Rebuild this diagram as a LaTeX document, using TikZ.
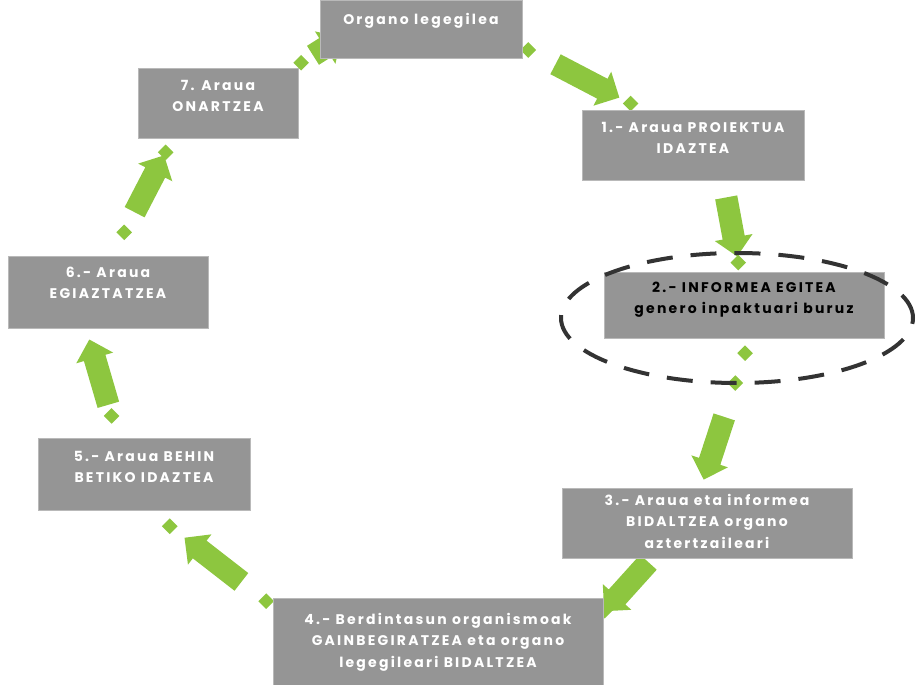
\documentclass[tikz,border=0pt]{standalone}
\usepackage{fontspec}
\setmainfont{Poppins}
\usetikzlibrary{shapes.geometric,shapes.arrows}

\definecolor{boxgray}{HTML}{959595}
\definecolor{leafgreen}{HTML}{8DC63F}
\definecolor{ringgray}{HTML}{333333}

\pgfdeclarelayer{back}
\pgfsetlayers{back,main}

\begin{document}
\begin{tikzpicture}[x=1pt, y=-1pt,
			stepbox/.style={rectangle, draw=gray!55, fill=boxgray, text=white, align=center,
				font=\bfseries\fontsize{14}{21.5}\selectfont\addfontfeatures{LetterSpace=16},
				inner sep=2pt, text depth=14pt},
			reportbox/.style={stepbox, text=black},
			gdot/.style={rectangle, fill=leafgreen, minimum size=11pt, inner sep=0pt, rotate=45},
			garrow/.style={single arrow, fill=leafgreen, inner sep=11pt, single arrow head extend=8pt,
				minimum height=#1, sloped, allow upside down},
			garrow/.default=66pt,
			]
			\useasboundingbox (0,0) rectangle (916,685);

			%Nodes
			\node[stepbox, minimum width=202pt, minimum height=58pt, text depth=20pt] (leg) at (421,29) {Organo legegilea};
			\node[stepbox, minimum width=222pt, minimum height=70pt] (n1) at (693,145) {1.- Araua PROIEKTUA\\IDAZTEA};
			\node[reportbox, minimum width=280pt, minimum height=66pt] (n2) at (744,305) {2.- INFORMEA EGITEA\\genero inpaktuari buruz};
			\node[stepbox, minimum width=290pt, minimum height=70pt, text depth=4pt] (n3) at (707,523) {3.- Araua eta informea\\BIDALTZEA organo\\aztertzaileari};
			\node[stepbox, minimum width=330pt, minimum height=87pt, text depth=4pt] (n4) at (438,642) {4.- Berdintasun organismoak\\GAINBEGIRATZEA eta organo\\legegileari BIDALTZEA};
			\node[stepbox, minimum width=212pt, minimum height=72pt] (n5) at (144,474) {5.- Araua BEHIN\\BETIKO IDAZTEA};
			\node[stepbox, minimum width=200pt, minimum height=72pt, text depth=18pt] (n6) at (108,292) {6.- Araua\\EGIAZTATZEA};
			\node[stepbox, minimum width=160pt, minimum height=70pt] (n7) at (218,103) {7. Araua\\ONARTZEA};

			%Ring round the report
			\node[ellipse, draw=ringgray, line width=4pt, dash pattern=on 26pt off 18pt,
				minimum width=352pt, minimum height=130pt] (ring) at (737,318) {};

			%Cycle
			\begin{pgfonlayer}{back}
			\path (leg.-10) -- (n1.145)
				node[pos=.05, gdot] {} node[pos=.5, garrow=72pt] {} node[pos=.9, gdot] {};
			\path ([xshift=30pt]n1.south) -- ([xshift=-4pt]n2.north)
				node[pos=.45, garrow=60pt] {} node[pos=.9, gdot] {};
			\path ([xshift=6pt]n2.south) -- ([xshift=-6pt]n3.north)
				node[pos=.1, gdot] {} node[pos=.3, gdot] {} node[pos=.7, garrow=66pt] {};
			\path ([xshift=-55pt]n3.south) -- ([yshift=-14pt]n4.north east)
				node[pos=.45, garrow=66pt] {} node[pos=.97, gdot] {};
			\path ([yshift=-8pt]n4.north west) -- ([xshift=18pt,yshift=-10pt]n5.south)
				node[pos=.06, gdot] {} node[pos=.5, garrow=72pt] {} node[pos=.93, gdot] {};
			\path ([xshift=-26pt]n5.north) -- ([xshift=-22pt]n6.south)
				node[pos=.2, gdot] {} node[pos=.55, garrow=68pt] {};
			\path ([xshift=4pt]n6.north) -- ([xshift=-45pt]n7.south)
				node[pos=.2, gdot] {} node[pos=.57, garrow=64pt] {} node[pos=.88, gdot] {};
			\path ([xshift=-5pt]n7.north east) -- ([yshift=-22pt]leg.west)
				node[pos=.3, gdot] {} node[pos=1.1, garrow=14pt] {};
			\end{pgfonlayer}
		\end{tikzpicture}
\end{document}
